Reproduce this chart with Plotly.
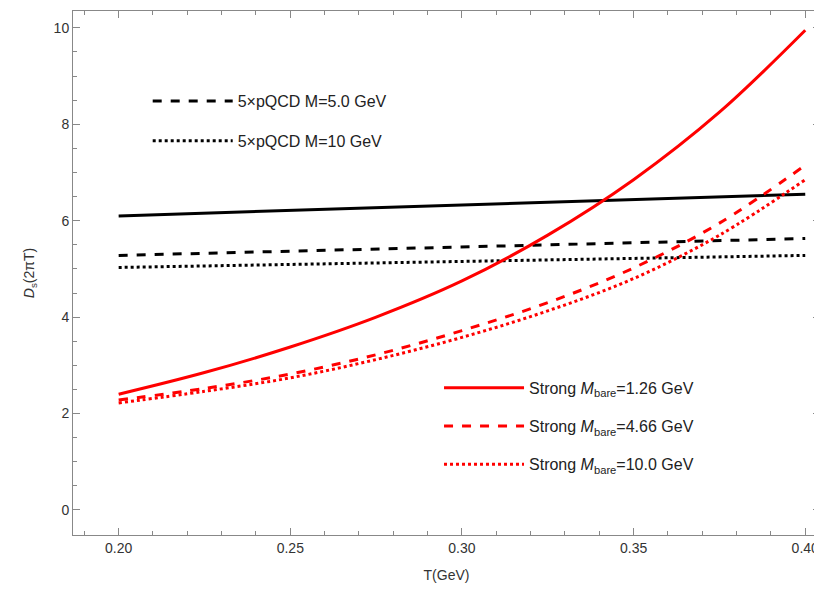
import plotly.graph_objects as go

T = [0.20, 0.225, 0.25, 0.275, 0.30, 0.325, 0.35, 0.375, 0.40]
strong_126 = [2.40, 2.85, 3.38, 4.00, 4.75, 5.70, 6.85, 8.25, 9.95]
strong_466 = [2.28, 2.52, 2.82, 3.22, 3.72, 4.30, 5.02, 5.95, 7.15]
strong_100 = [2.22, 2.46, 2.74, 3.12, 3.58, 4.13, 4.80, 5.70, 6.85]
T_p = [0.20, 0.40]
pqcd_12 = [6.10, 6.55]
pqcd_50 = [5.28, 5.63]
pqcd_10 = [5.03, 5.28]

fig = go.Figure()
series = [("5×pQCD M=1.2 GeV", T_p, pqcd_12, "solid", "black", 0.10, 0.905),
          ("5×pQCD M=5.0 GeV", T_p, pqcd_50, "dash", "black", 0.10, 0.828),
          ("5×pQCD M=10 GeV", T_p, pqcd_10, "dot", "black", 0.10, 0.752),
          ("Strong <i>M</i><sub>bare</sub>=1.26 GeV", T, strong_126, "solid", "red", 0.49, 0.281),
          ("Strong <i>M</i><sub>bare</sub>=4.66 GeV", T, strong_466, "dash", "red", 0.49, 0.208),
          ("Strong <i>M</i><sub>bare</sub>=10.0 GeV", T, strong_100, "dot", "red", 0.49, 0.135)]
legends = {}
for i, (n, x, y, d, c, lx, ly) in enumerate(series):
    key = "legend" if i == 0 else f"legend{i+1}"
    fig.add_trace(go.Scatter(x=x, y=y, mode="lines", name=n, legend=key,
                             line_shape="spline" if c == "red" else "linear",
                             line=dict(color=c, width=3, dash=d)))
    legends[key] = dict(x=lx, y=ly, xanchor="left", yanchor="middle",
                        font=dict(size=16, color="#222"), bgcolor="rgba(0,0,0,0)",
                        itemwidth=80)

ax = dict(showline=True, linecolor="#888", mirror="ticks", ticks="inside", ticklen=7,
          tickcolor="#888", showgrid=False, zeroline=False,
          tickfont=dict(size=14, color="#333"),
          minor=dict(ticks="inside", ticklen=4, tickcolor="#888"))
fig.update_xaxes(**ax, range=[0.1867, 0.4043], tickvals=[0.20, 0.25, 0.30, 0.35, 0.40],
                 ticktext=["0.20", "0.25", "0.30", "0.35", "0.40"], minor_dtick=0.01,
                 title=dict(text="T(GeV)", font=dict(size=14, color="#333")))
fig.update_yaxes(**ax, range=[-0.52, 10.35], dtick=2, minor_dtick=0.5,
                 title=dict(text="<i>D</i><sub>s</sub>(2πT)", font=dict(size=14, color="#333")))
fig.update_layout(
    width=822, height=590, plot_bgcolor="white", paper_bgcolor="white",
    margin=dict(l=65, r=10, t=3, b=63), font=dict(family="Liberation Sans"),
    **legends,
)
fig.write_html("out.html")
